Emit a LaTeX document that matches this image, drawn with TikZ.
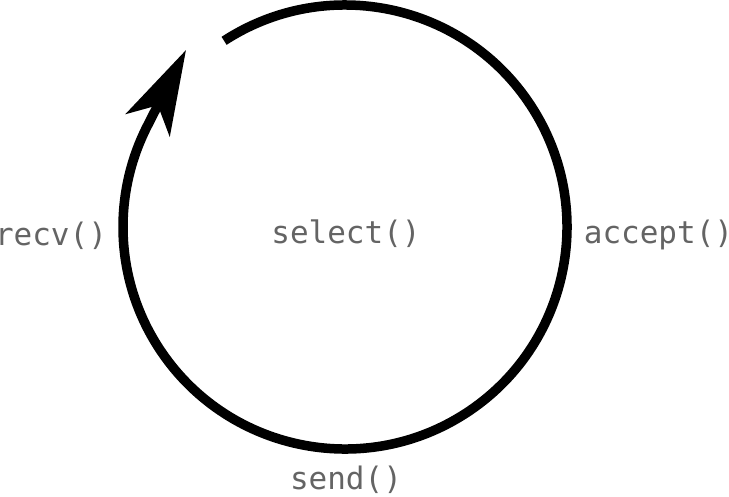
\documentclass[tikz,border=0pt]{standalone}
\usepackage{fontspec}
\setmonofont{DejaVu Sans Mono}
\usetikzlibrary{arrows.meta}
\definecolor{labelgray}{RGB}{100,100,100}
\tikzset{
  lbl/.style={anchor=base, text=labelgray, font=\ttfamily\fontsize{31}{37}\selectfont, inner sep=0pt},
  loopline/.style={line width=9.5pt, black, -{Stealth[length=84pt, width=49pt, inset=22pt]}}
}
\begin{document}
\begin{tikzpicture}[x=1pt,y=1pt]
\useasboundingbox (0,0) rectangle (729,-496);
\coordinate (c) at (345,-227);
\coordinate (tip) at (186,-50);
\draw[loopline] (c) ++(123:222) arc[start angle=123, end angle=-207, radius=222] -- (tip);
\node[lbl] (select) at (346,-243) {select()};
\node[lbl] (accept) at (658.5,-243) {accept()};
\node[lbl] (recv) at (51,-245) {recv()};
\node[lbl] (send) at (346,-489) {send()};
\end{tikzpicture}
\end{document}
